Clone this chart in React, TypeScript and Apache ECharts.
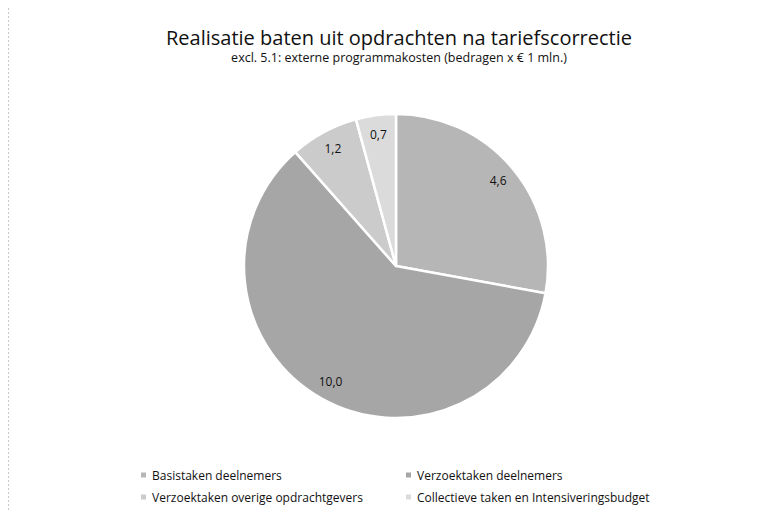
import React, { useEffect, useRef } from "react";
import * as echarts from "echarts";

const categories = [
  "Basistaken deelnemers",
  "Verzoektaken deelnemers",
  "Verzoektaken overige opdrachtgevers",
  "Collectieve taken en Intensiveringsbudget",
];
const values = [4.6, 10.0, 1.2, 0.7];
const colors = ["#b6b6b6", "#a6a6a6", "#cbcbcb", "#dbdbdb"];
const title = "Realisatie baten uit opdrachten na tariefscorrectie";
const subtitle = "excl. 5.1: externe programmakosten (bedragen x € 1 mln.)";

const FONT = "'Open Sans', 'Noto Sans', sans-serif";

export default function App() {
  const ref = useRef<HTMLDivElement>(null);
  useEffect(() => {
    if (!ref.current) return;
    const chart = echarts.init(ref.current, undefined, { renderer: "svg" });
    const data = categories.map((name, i) => ({
      name,
      value: values[i],
      itemStyle: { color: colors[i] },
    }));
    const fmt = (p: any) => Number(p.value).toFixed(1).replace(".", ",");
    chart.setOption({
      animation: false,
      backgroundColor: "#ffffff",
      title: {
        text: title,
        subtext: subtitle,
        left: 394,
        textAlign: "center",
        top: 22,
        itemGap: 4,
        textStyle: { fontFamily: FONT, fontSize: 20, fontWeight: "normal", color: "#111111" },
        subtextStyle: { fontFamily: FONT, fontSize: 12.5, color: "#111111" },
      },
      legend: [
        {
          orient: "vertical",
          left: 134,
          top: 464,
          itemGap: 10,
          itemWidth: 7,
          itemHeight: 7,
          icon: "rect",
          data: [categories[0], categories[2]],
          textStyle: { fontFamily: FONT, fontSize: 12, color: "#111111" },
        },
        {
          orient: "vertical",
          left: 399,
          top: 464,
          itemGap: 10,
          itemWidth: 7,
          itemHeight: 7,
          icon: "rect",
          data: [categories[1], categories[3]],
          textStyle: { fontFamily: FONT, fontSize: 12, color: "#111111" },
        },
      ],
      graphic: [
        {
          type: "line",
          shape: { x1: 8.5, y1: 8, x2: 8.5, y2: 512 },
          style: { stroke: "#c8c8c8", lineWidth: 1, lineDash: [2, 2] },
          silent: true,
        },
      ],
      series: [
        {
          type: "pie",
          center: [396, 266],
          radius: [0, 152],
          startAngle: 90,
          clockwise: true,
          data,
          label: { show: false },
          labelLine: { show: false },
          itemStyle: { borderColor: "#ffffff", borderWidth: 2.5 },
          emphasis: { disabled: true },
          silent: true,
        },
        {
          type: "pie",
          center: [396, 266],
          radius: [108, 152],
          startAngle: 90,
          clockwise: true,
          data: categories.map((name, i) => ({ name, value: values[i] })),
          itemStyle: { color: "rgba(0,0,0,0)" },
          label: {
            show: true,
            position: "inside",
            formatter: fmt,
            fontFamily: FONT,
            fontSize: 12,
            color: "#111111",
          },
          labelLine: { show: false },
          emphasis: { disabled: true },
          silent: true,
          legendHoverLink: false,
        },
      ],
    });
    return () => chart.dispose();
  }, []);
  return (
    <div
      ref={ref}
      style={{ position: "absolute", left: 0, top: 0, width: 771, height: 515 }}
    />
  );
}
